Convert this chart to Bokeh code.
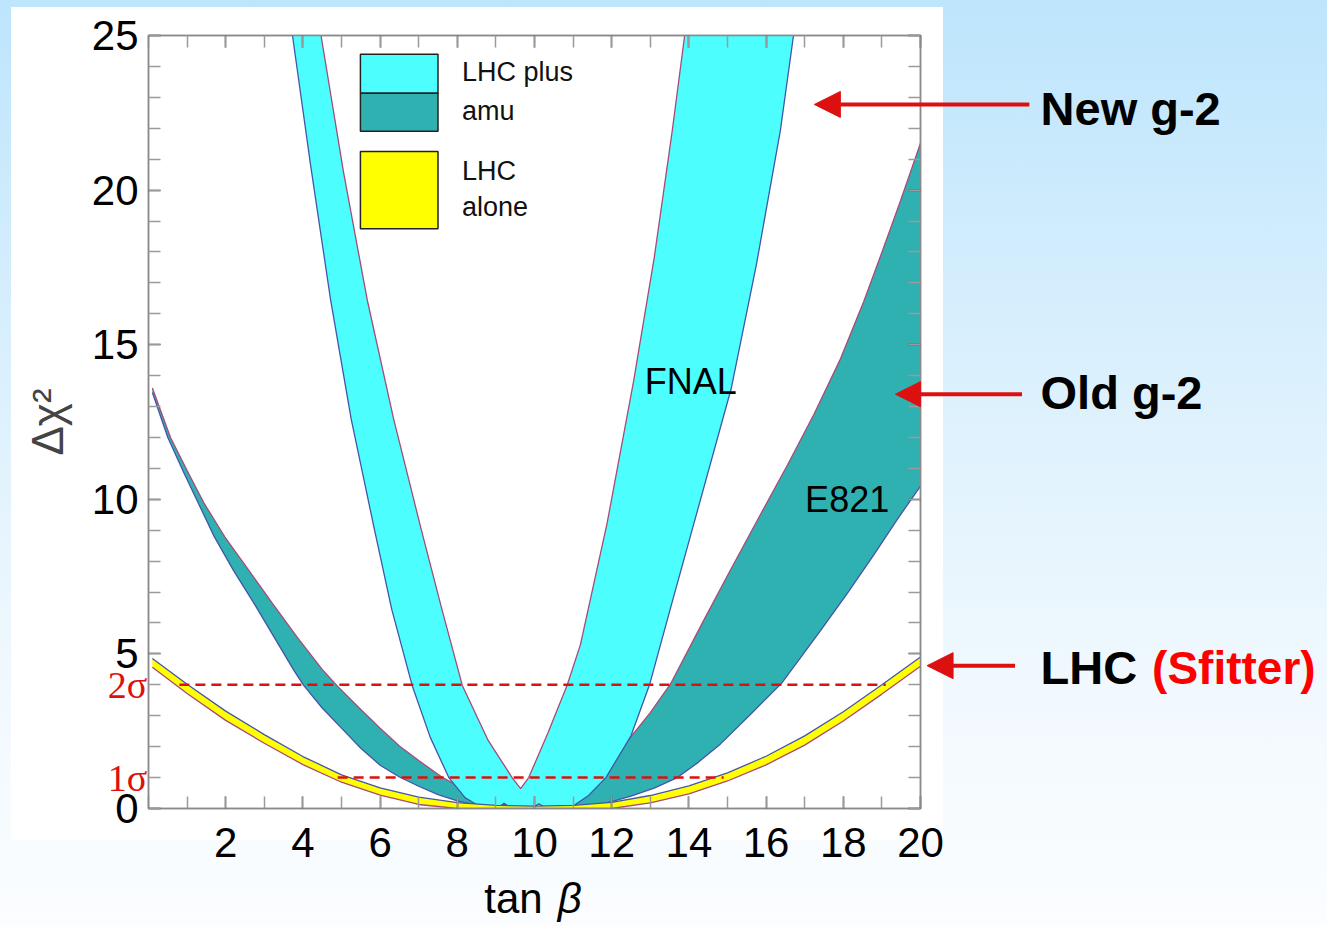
from bokeh.plotting import figure
from bokeh.models import (Range1d, LinearAxis, FixedTicker, Label, Arrow, NormalHead,
                          BoxAnnotation, CustomJSTickFormatter)
from bokeh.embed import file_html
from bokeh.resources import INLINE

# ---------------- data ----------------
# LHC alone (Sfitter) band
lhc_x = [0.1, 1, 2, 3, 4, 5, 6, 7, 8, 9, 10, 11, 12, 13, 14, 15, 16, 17, 18, 19, 20]
lhc_upper = [4.85, 4.02, 3.15, 2.39, 1.68, 1.09, 0.67, 0.37, 0.19, 0.10, 0.08, 0.10, 0.20, 0.42, 0.73, 1.15, 1.69, 2.35, 3.13, 4.00, 4.90]
lhc_lower = [4.57, 3.72, 2.85, 2.11, 1.42, 0.85, 0.43, 0.13, 0.00, 0.00, 0.00, 0.00, 0.00, 0.18, 0.47, 0.89, 1.41, 2.05, 2.83, 3.70, 4.60]

# E821 (old g-2) band: lower and upper envelopes
e821_lower_x = [0.1, 0.5, 0.9, 1.3, 1.7, 2.2, 2.75, 3.25, 3.77, 4.02, 4.5, 5.0, 5.5, 6.0, 6.5, 7.0, 7.5, 8.0, 8.5, 9.0, 9.5,
                10.5, 10.9, 11.5, 12.0, 12.5, 13.1, 13.7, 14.25, 14.82, 15.6, 16.4, 17.41, 18.1, 18.79, 19.4, 20.0]
e821_lower_y = [13.45, 12.0, 10.9, 9.85, 8.8, 7.7, 6.6, 5.55, 4.46, 3.98, 3.25, 2.6, 1.95, 1.4, 1.02, 0.72, 0.45, 0.25, 0.1, 0.02, 0.0,
                0.0, 0.02, 0.1, 0.22, 0.4, 0.66, 1.0, 1.5, 2.09, 3.05, 4.05, 5.75, 6.95, 8.2, 9.35, 10.43]
e821_upper_x = [0.1, 0.57, 1.0, 1.45, 1.98, 2.6, 3.22, 3.85, 4.5, 4.9, 5.5, 6.0, 6.5, 7.0, 7.6, 8.2, 9.0, 9.6,
                10.3, 11.0, 11.8, 12.49, 13.0, 13.52, 14.39, 15.08, 15.85, 16.55, 17.24, 17.93, 18.53, 18.96, 19.48, 20.0]
e821_upper_y = [13.6, 12.0, 10.93, 9.85, 8.78, 7.7, 6.62, 5.54, 4.5, 3.95, 3.2, 2.6, 2.02, 1.55, 1.02, 0.6, 0.2, 0.03,
                0.05, 0.6, 1.5, 2.31, 3.1, 4.02, 6.1, 7.72, 9.5, 11.1, 12.75, 14.55, 16.4, 17.85, 19.65, 21.52]

# FNAL (new g-2) band: outer boundary and inner (V) boundary
fnal_outer_x = [3.73, 4.2, 4.72, 5.25, 5.84, 6.3, 6.83, 7.3, 7.78, 8.2, 8.6, 9.05, 9.21, 9.4, 9.95, 10.11, 10.3,
                10.93, 11.4, 11.85, 12.5, 12.98, 13.55, 14.13, 15.1, 15.75, 16.37, 16.71]
fnal_outer_y = [25.0, 20.8, 16.43, 12.6, 9.1, 6.45, 3.98, 2.3, 1.0, 0.35, 0.05, 0.02, 0.17, 0.02, 0.02, 0.15, 0.02,
                0.02, 0.42, 1.0, 2.35, 4.0, 6.6, 9.22, 13.6, 17.6, 21.93, 25.0]
fnal_inner_x = [4.47, 5.05, 5.67, 6.35, 7.05, 7.6, 8.13, 8.8, 9.42, 9.64, 9.85, 10.35, 10.85, 11.19, 11.88, 12.57, 13.1, 13.57, 13.89]
fnal_inner_y = [25.0, 20.6, 16.43, 12.6, 9.1, 6.45, 3.98, 2.2, 1.0, 0.64, 1.0, 2.45, 4.0, 5.3, 9.22, 13.84, 17.8, 21.93, 25.0]

# sigma reference lines
sigma_y = [1, 4]
sigma_x0 = [4.9, 0.8]
sigma_x1 = [14.9, 19.1]
sigma_labels = ["1σ", "2σ"]

# ticks
x_major = [2, 4, 6, 8, 10, 12, 14, 16, 18, 20]
x_minor = list(range(0, 21))
y_major = [0, 5, 10, 15, 20, 25]
y_minor = list(range(0, 26))

# ---------------- styling ----------------
CYAN = "#4dfefe"
TEAL = "#30b1b1"
YELLOW = "#ffff00"
BLUE_LINE = "#4455aa"
PURPLE_LINE = "#a84a78"
RED = "#dd1010"
FONT = "Liberation Sans"

W, H = 1327, 926
FL, FT, FW, FH = 148, 35, 772, 773          # frame placement in the window
XMIN, XMAX, YMIN, YMAX = 0, 20, 0, 25

bg = ("linear-gradient(#ffffff, #ffffff) 11px 7px / 932px 833px no-repeat, "
      "linear-gradient(to bottom, #bde5fc 0%, #d8effd 36%, #f2f9fe 76%, #fbfdff 100%)")

p = figure(frame_width=FW, frame_height=FH,
           x_range=Range1d(XMIN, XMAX), y_range=Range1d(YMIN, YMAX),
           output_backend="svg", toolbar_location=None,
           min_border_left=FL, min_border_right=W - FL - FW, min_border_top=FT, min_border_bottom=H - FT - FH,
           border_fill_color=None, background_fill_color="white",
           outline_line_color="#8a8a8a", outline_line_width=1.5,
           styles={"position": "absolute", "top": "0px", "left": "0px", "background": bg})
p.xgrid.visible = False
p.ygrid.visible = False


def style_axis(ax, major, minor, show_labels=True):
    ax.ticker = FixedTicker(ticks=major, minor_ticks=minor)
    ax.major_tick_in = 12
    ax.major_tick_out = 0
    ax.minor_tick_in = 12
    ax.minor_tick_out = 0
    ax.major_tick_line_color = "#444444"
    ax.minor_tick_line_color = "#9a9a9a"
    ax.major_tick_line_width = 1.5
    ax.minor_tick_line_width = 1.5
    ax.axis_line_color = "#8a8a8a"
    ax.axis_line_width = 1.5
    ax.major_label_text_font = FONT
    ax.major_label_text_font_size = "42px"
    ax.major_label_text_color = "black"
    if not show_labels:
        ax.formatter = CustomJSTickFormatter(code="return ''")
        ax.major_label_standoff = 0


xa = p.xaxis[0]
style_axis(xa, x_major, x_minor)
xa.major_label_standoff = 19

ya = p.yaxis[0]
style_axis(ya, y_major, y_minor)
ya.major_label_standoff = 10
ya.axis_label = "Δχ²"
ya.axis_label_text_font = FONT
ya.axis_label_text_font_size = "44px"
ya.axis_label_text_font_style = "normal"
ya.axis_label_standoff = 17

top_ax = LinearAxis()
style_axis(top_ax, x_major, x_minor, show_labels=False)
p.add_layout(top_ax, "above")
right_ax = LinearAxis()
style_axis(right_ax, y_major, y_minor, show_labels=False)
p.add_layout(right_ax, "right")

# ---------------- bands ----------------
p.patch(e821_lower_x + e821_upper_x[::-1], e821_lower_y + e821_upper_y[::-1],
        fill_color=TEAL, line_color=None)
p.line(e821_lower_x, e821_lower_y, line_color=BLUE_LINE, line_width=1.3)
p.line(e821_upper_x, e821_upper_y, line_color=PURPLE_LINE, line_width=1.3)

p.patch(fnal_outer_x + fnal_inner_x[::-1], fnal_outer_y + fnal_inner_y[::-1],
        fill_color=CYAN, line_color=None)
p.line(fnal_outer_x, fnal_outer_y, line_color=BLUE_LINE, line_width=1.3)
p.line(fnal_inner_x, fnal_inner_y, line_color=PURPLE_LINE, line_width=1.3)

p.varea(x=lhc_x, y1=lhc_lower, y2=lhc_upper, fill_color=YELLOW)
p.line(lhc_x, lhc_upper, line_color=BLUE_LINE, line_width=1.3)
p.line(lhc_x, lhc_lower, line_color=PURPLE_LINE, line_width=1.3)

p.segment(x0=sigma_x0, y0=sigma_y, x1=sigma_x1, y1=sigma_y,
          line_color=RED, line_width=2.5, line_dash="10 6")

p.add_layout(Label(x=14.05, y=13.8, text="FNAL", text_align="center", text_baseline="middle",
                   text_font=FONT, text_font_size="36px", text_color="black"))
p.add_layout(Label(x=18.1, y=10.0, text="E821", text_align="center", text_baseline="middle",
                   text_font=FONT, text_font_size="36px", text_color="black"))

# legend
p.add_layout(BoxAnnotation(left=5.49, right=7.5, bottom=23.13, top=24.39, fill_color=CYAN, fill_alpha=1,
                           line_color="#222222", line_alpha=1, line_width=1.5))
p.add_layout(BoxAnnotation(left=5.49, right=7.5, bottom=21.9, top=23.13, fill_color=TEAL, fill_alpha=1,
                           line_color="#222222", line_alpha=1, line_width=1.5))
p.add_layout(BoxAnnotation(left=5.49, right=7.5, bottom=18.75, top=21.25, fill_color=YELLOW, fill_alpha=1,
                           line_color="#222222", line_alpha=1, line_width=1.5))
for txt, yy in [("LHC plus", 23.81), ("amu", 22.57), ("LHC", 20.63), ("alone", 19.45)]:
    p.add_layout(Label(x=8.12, y=yy, text=txt, text_align="left", text_baseline="middle",
                       text_font=FONT, text_font_size="27px", text_color="#111111"))

# ---------------- overlay: same data scale, frame = whole window (no clipping) ----------------
sx = FW / (XMAX - XMIN)
sy = FH / (YMAX - YMIN)
ov = figure(frame_width=W, frame_height=H,
            x_range=Range1d(XMIN - FL / sx, XMIN + (W - FL) / sx),
            y_range=Range1d(YMIN - (H - FT - FH) / sy, YMAX + FT / sy),
            output_backend="svg", toolbar_location=None,
            x_axis_location=None, y_axis_location=None,
            min_border_left=0, min_border_right=0, min_border_top=0, min_border_bottom=0,
            border_fill_color=None, background_fill_color=None, outline_line_color=None,
            styles={"position": "absolute", "top": "0px", "left": "0px"})
ov.xgrid.visible = False
ov.ygrid.visible = False

for yv, txt in zip(sigma_y, sigma_labels):
    ov.add_layout(Label(x=-0.03, y=yv, text=txt, text_align="right", text_baseline="middle",
                        text_font="Liberation Serif", text_font_size="38px", text_color=RED))

ov.add_layout(Label(x=8.7, y=-2.91, text="tan", text_align="left", text_baseline="middle",
                    text_font=FONT, text_font_size="42px", text_color="black"))
ov.add_layout(Label(x=10.6, y=-2.91, text="β", text_align="left", text_baseline="middle",
                    text_font=FONT, text_font_size="42px", text_font_style="italic", text_color="black"))

for xs, xe, ya_, size in [(22.82, 17.25, 22.77, 26), (22.63, 19.35, 13.40, 25), (22.45, 20.17, 4.62, 26)]:
    ov.add_layout(Arrow(end=NormalHead(size=size, fill_color=RED, line_color=RED),
                        x_start=xs, y_start=ya_, x_end=xe, y_end=ya_,
                        line_color=RED, line_width=4))

ov.add_layout(Label(x=23.11, y=22.64, text="New g-2", text_align="left", text_baseline="middle",
                    text_font=FONT, text_font_size="47px", text_font_style="bold", text_color="black"))
ov.add_layout(Label(x=23.11, y=13.46, text="Old g-2", text_align="left", text_baseline="middle",
                    text_font=FONT, text_font_size="47px", text_font_style="bold", text_color="black"))
ov.add_layout(Label(x=23.11, y=4.56, text="LHC", text_align="left", text_baseline="middle",
                    text_font=FONT, text_font_size="47px", text_font_style="bold", text_color="black"))
ov.add_layout(Label(x=26.0, y=4.56, text="(Sfitter)", text_align="left", text_baseline="middle",
                    text_font=FONT, text_font_size="46px", text_font_style="bold", text_color="#ff0000"))

open("out.html", "w").write(file_html([p, ov], INLINE, title="tan beta chi2"))
